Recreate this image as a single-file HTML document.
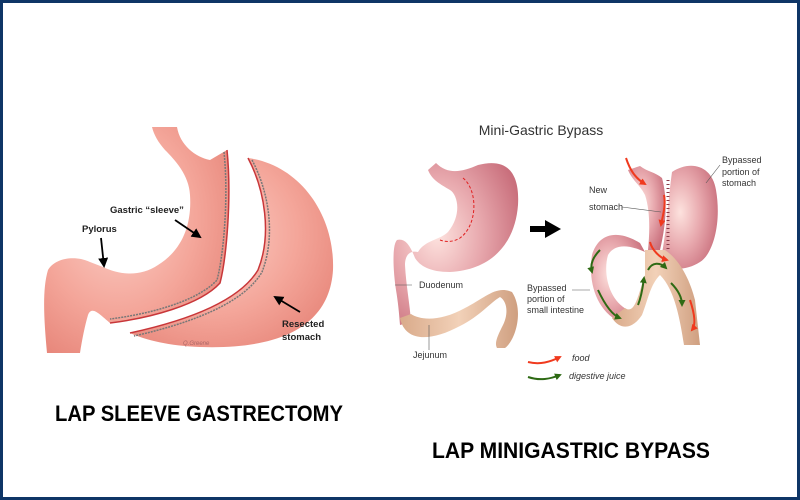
<!DOCTYPE html>
<html><head><meta charset="utf-8"><style>
html,body{margin:0;padding:0;background:#fff}
svg{display:block}
</style></head><body>
<svg width="800" height="500" viewBox="0 0 800 500" xmlns="http://www.w3.org/2000/svg" font-family="Liberation Sans, sans-serif">
<defs>
<radialGradient id="pk" cx="40%" cy="40%" r="70%"><stop offset="0" stop-color="#fbd0c8"/><stop offset="0.6" stop-color="#f4a69a"/><stop offset="1" stop-color="#e8887c"/></radialGradient>
<radialGradient id="pk2" cx="35%" cy="45%" r="70%"><stop offset="0" stop-color="#fde2de"/><stop offset="0.5" stop-color="#e8a9ae"/><stop offset="1" stop-color="#c96f7c"/></radialGradient>
<linearGradient id="tan" x1="0" y1="0" x2="1" y2="0"><stop offset="0" stop-color="#d9aa8a"/><stop offset="0.5" stop-color="#f2d1b8"/><stop offset="1" stop-color="#cf9f80"/></linearGradient>
<marker id="ah" markerUnits="userSpaceOnUse" markerWidth="10" markerHeight="10" refX="8" refY="5" orient="auto"><path d="M0,0 L10,5 L0,10 Z" fill="#000"/></marker>
<marker id="ar" markerUnits="userSpaceOnUse" markerWidth="7" markerHeight="7" refX="5" refY="3.5" orient="auto"><path d="M0,0 L7,3.5 L0,7 Z" fill="#f03a1e"/></marker>
<marker id="ag" markerUnits="userSpaceOnUse" markerWidth="7" markerHeight="7" refX="5" refY="3.5" orient="auto"><path d="M0,0 L7,3.5 L0,7 Z" fill="#2e6a14"/></marker>
</defs>
<rect x="1.5" y="1.5" width="797" height="497" fill="#fff" stroke="#0e3566" stroke-width="3"/>

<!-- LEFT: sleeve -->
<path d="M152,127 L177,127 C180,145 195,157 210,160 L227,150 C232,200 226,260 220,283 C200,305 150,318 110,323 C100,315 92,305 88,315 C85,325 82,340 80,353 L47,353 C44,320 42,290 48,270 C55,258 75,255 90,262 L103,267 C120,275 140,277 158,265 C182,250 192,225 190,195 C189,175 175,160 165,150 C158,142 154,135 152,127 Z" fill="url(#pk)"/>
<path d="M227,150 C232,200 226,260 220,283 C200,305 150,318 110,323" fill="none" stroke="#c8373a" stroke-width="1.5"/>
<path d="M224,152 C229,200 223,258 217,280 C198,301 150,314 110,319" fill="none" stroke="#777" stroke-width="1.5" stroke-dasharray="2 1"/>
<!-- resected -->
<path d="M248,158 C300,165 335,215 333,270 C330,320 290,350 200,347 C170,346 145,340 130,333 C190,320 240,300 258,270 C272,235 265,190 248,158 Z" fill="url(#pk)"/>
<path d="M248,158 C265,190 272,235 258,270 C240,300 190,320 130,333" fill="none" stroke="#c8373a" stroke-width="1.5"/>
<path d="M252,160 C269,192 276,236 262,272 C244,303 192,323 134,336" fill="none" stroke="#777" stroke-width="1.5" stroke-dasharray="2 1"/>
<text x="183" y="345" font-size="6" fill="#a66" font-style="italic">Q.Greene</text>
<g font-size="9.5" font-weight="bold" fill="#222">
<text x="110" y="213">Gastric “sleeve”</text>
<text x="82" y="232">Pylorus</text>
<text x="282" y="327">Resected</text>
<text x="282" y="340">stomach</text>
</g>
<line x1="175" y1="220" x2="200" y2="237" stroke="#000" stroke-width="1.8" marker-end="url(#ah)"/>
<line x1="101" y1="238" x2="104" y2="266" stroke="#000" stroke-width="1.8" marker-end="url(#ah)"/>
<line x1="300" y1="312" x2="275" y2="297" stroke="#000" stroke-width="1.8" marker-end="url(#ah)"/>

<text x="55" y="421" font-size="22" font-weight="bold" textLength="288" lengthAdjust="spacingAndGlyphs">LAP SLEEVE GASTRECTOMY</text>
<text x="432" y="458" font-size="22" font-weight="bold" textLength="278" lengthAdjust="spacingAndGlyphs">LAP MINIGASTRIC BYPASS</text>

<!-- RIGHT -->
<text x="541" y="135" font-size="14" fill="#333" text-anchor="middle">Mini-Gastric Bypass</text>
<path d="M428,170 L436,163 C448,175 462,172 478,165 C505,158 520,170 518,205 C515,245 490,270 450,272 C430,272 420,266 415,258 C410,245 405,238 397,240 C392,245 393,270 396,290 C398,302 399,312 400,325 L411,322 C410,305 406,285 405,265 C405,255 410,250 418,252 C425,240 440,240 448,232 C462,215 458,195 450,190 C440,184 432,180 428,170 Z" fill="url(#pk2)"/>
<path d="M463,178 C478,190 478,225 460,238 C455,241 448,243 440,240" fill="none" stroke="#e02020" stroke-width="1" stroke-dasharray="3 2"/>
<path d="M400,318 C405,342 430,342 460,326 C480,316 490,303 500,297 C508,302 508,315 503,325 C498,335 494,343 497,348 L505,348 C516,340 524,310 512,292 C496,285 485,298 465,308 C440,322 420,320 411,314 Z" fill="url(#tan)"/>
<g font-size="9" fill="#333">
<text x="419" y="288">Duodenum</text>
<text x="413" y="358">Jejunum</text>
<text x="527" y="291">Bypassed</text>
<text x="527" y="302">portion of</text>
<text x="527" y="313">small intestine</text>
<text x="589" y="193">New</text>
<text x="589" y="210">stomach</text>
<text x="722" y="163">Bypassed</text>
<text x="722" y="175">portion of</text>
<text x="722" y="186">stomach</text>
<text x="572" y="361" font-style="italic">food</text>
<text x="569" y="379" font-style="italic">digestive juice</text>
</g>
<line x1="395" y1="285" x2="412" y2="285" stroke="#555" stroke-width="0.6"/>
<line x1="429" y1="325" x2="429" y2="350" stroke="#555" stroke-width="0.6"/>
<path d="M530,226 L545,226 L545,220 L561,229 L545,238 L545,232 L530,232 Z" fill="#000"/>
<path d="M672,172 C690,160 712,165 716,190 C722,225 712,255 700,262 C685,272 665,270 660,262 C666,240 668,200 672,172 Z" fill="url(#pk2)"/>
<path d="M628,170 L640,166 C648,172 655,172 662,178 C668,200 666,225 660,250 L648,250 C650,230 650,210 645,195 C640,185 632,180 628,170 Z" fill="url(#pk2)"/>
<path d="M640,243 C615,228 598,235 592,255 C588,280 595,310 620,322 C625,318 630,315 628,310 C608,300 603,272 608,255 C615,243 630,245 645,252 Z" fill="url(#pk2)"/>
<path d="M645,250 L665,250 C680,260 690,280 695,300 L700,345 L684,345 C680,320 675,290 660,275 C650,285 648,300 642,315 C632,330 620,330 612,318 L625,308 C635,315 638,295 645,275 Z" fill="url(#tan)"/>
<path d="M668,180 L668,250" fill="none" stroke="#8a3a48" stroke-width="3" stroke-dasharray="1 3"/>
<line x1="622" y1="207" x2="661" y2="212" stroke="#555" stroke-width="0.6"/>
<line x1="706" y1="183" x2="720" y2="165" stroke="#555" stroke-width="0.6"/>
<line x1="572" y1="290" x2="590" y2="290" stroke="#555" stroke-width="0.6"/>
<g fill="none" stroke-width="2">
<path d="M626,158 C630,170 635,178 645,184" stroke="#f03a1e" marker-end="url(#ar)"/>
<path d="M664,195 C666,205 663,215 661,225" stroke="#f03a1e" marker-end="url(#ar)"/>
<path d="M650,242 C652,250 660,258 667,260" stroke="#f03a1e" marker-end="url(#ar)"/>
<path d="M690,300 C695,315 696,325 692,330" stroke="#f03a1e" marker-end="url(#ar)"/>
<path d="M600,250 C592,258 590,265 592,272" stroke="#2e6a14" marker-end="url(#ag)"/>
<path d="M598,290 C605,305 612,315 620,318" stroke="#2e6a14" marker-end="url(#ag)"/>
<path d="M638,305 C642,295 643,285 644,278" stroke="#2e6a14" marker-end="url(#ag)"/>
<path d="M648,270 C652,262 660,262 666,268" stroke="#2e6a14" marker-end="url(#ag)"/>
<path d="M671,283 C678,290 682,297 682,305" stroke="#2e6a14" marker-end="url(#ag)"/>
<path d="M528,362 C540,365 550,362 560,357" stroke="#f03a1e" marker-end="url(#ar)"/>
<path d="M528,377 C540,381 550,379 560,375" stroke="#2e6a14" marker-end="url(#ag)"/>
</g>
</svg>
</body></html>
